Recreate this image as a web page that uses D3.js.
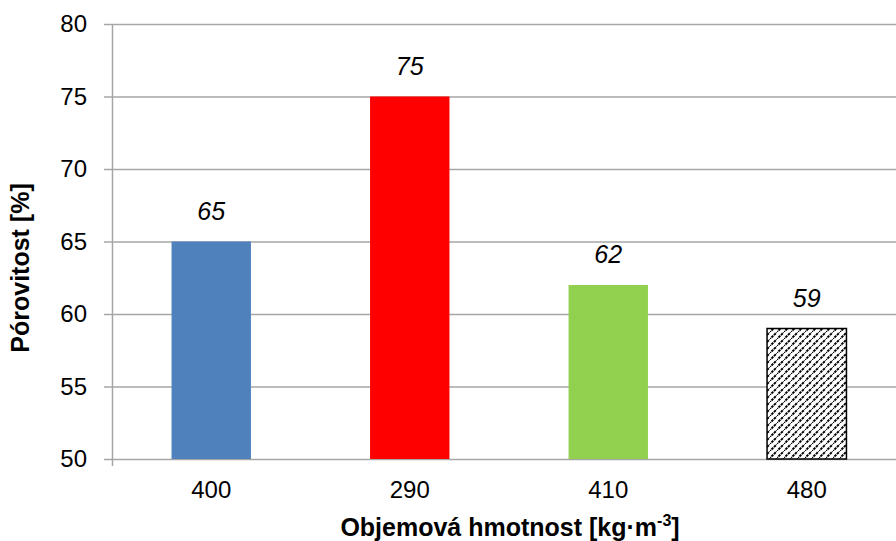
<!DOCTYPE html>
<html lang="cs">
<head>
    <meta charset="utf-8">
    <title>Pórovitost</title>
    <style>
        body {
            margin: 0;
            background: #fff;
            font-family: "Liberation Sans", Arial, sans-serif;
        }
        svg { display: block; }
    </style>
</head>
<body>
    <svg id="chart" width="896" height="541"></svg>

    <script src="https://d3js.org/d3.v7.min.js"></script>
    <script>
        // Data
        const categories = ["400", "290", "410", "480"];
        const values = [65, 75, 62, 59];
        const barFills = ["#4f81bd", "#ff0000", "#92d050", "url(#hatch)"];
        const yTicks = [50, 55, 60, 65, 70, 75, 80];

        const svg = d3.select("#chart");
        const margin = { top: 24, right: -10, bottom: 82, left: 112 };
        const width = 896 - margin.left - margin.right;
        const height = 541 - margin.top - margin.bottom;

        // Hatch pattern for the last bar
        const defs = svg.append("defs");
        const pat = defs.append("pattern")
            .attr("id", "hatch")
            .attr("patternUnits", "userSpaceOnUse")
            .attr("width", 7)
            .attr("height", 7);
        pat.append("rect").attr("width", 7).attr("height", 7).attr("fill", "#fff");
        pat.append("path")
            .attr("d", "M-1,8 L8,-1")
            .attr("stroke", "#000")
            .attr("stroke-width", 1.9)
            .attr("stroke-dasharray", "2.6,0.9");

        const g = svg.append("g").attr("transform", `translate(${margin.left},${margin.top})`);

        const x = d3.scaleBand().domain(categories).range([0, width]).paddingInner(0.6).paddingOuter(0.3);
        const y = d3.scaleLinear().domain([50, 80]).range([height, 0]);

        // Gridlines
        g.append("g")
            .selectAll("line")
            .data(yTicks)
            .join("line")
            .attr("x1", 0)
            .attr("x2", width)
            .attr("y1", d => y(d) + 0.5)
            .attr("y2", d => y(d) + 0.5)
            .attr("stroke", "#a6a6a6")
            .attr("stroke-width", 1.5);

        // Bars
        g.append("g")
            .selectAll("rect")
            .data(values)
            .join("rect")
            .attr("x", (d, i) => x(categories[i]))
            .attr("y", d => y(d))
            .attr("width", x.bandwidth())
            .attr("height", d => height - y(d))
            .attr("fill", (d, i) => barFills[i])
            .attr("stroke", (d, i) => i === 3 ? "#000" : "none")
            .attr("stroke-width", 1.5);

        // Data labels
        g.append("g")
            .selectAll("text")
            .data(values)
            .join("text")
            .attr("x", (d, i) => x(categories[i]) + x.bandwidth() / 2)
            .attr("y", d => y(d) - 22)
            .attr("text-anchor", "middle")
            .attr("font-size", 25)
            .attr("font-style", "italic")
            .attr("fill", "#000")
            .text(d => d);

        // Y axis
        const yAxis = g.append("g")
            .call(d3.axisLeft(y).tickValues(yTicks).tickSize(8).tickPadding(17));
        yAxis.select(".domain").attr("d", `M0.5,0V${height + 7}`).attr("stroke", "#a6a6a6").attr("stroke-width", 1.5);
        yAxis.selectAll(".tick line").attr("stroke", "#a6a6a6").attr("stroke-width", 1.5);
        yAxis.selectAll(".tick text")
            .attr("font-family", "Liberation Sans, Arial, sans-serif")
            .attr("font-size", 24)
            .attr("fill", "#000");

        // X axis
        const xAxis = g.append("g")
            .attr("transform", `translate(0,${height})`)
            .call(d3.axisBottom(x).tickSize(0).tickPadding(22));
        xAxis.select(".domain").remove();
        xAxis.selectAll(".tick text")
            .attr("font-family", "Liberation Sans, Arial, sans-serif")
            .attr("font-size", 24)
            .attr("fill", "#000");

        // Axis titles
        svg.append("text")
            .attr("transform", "translate(29,268) rotate(-90)")
            .attr("text-anchor", "middle")
            .attr("font-size", 25)
            .attr("font-weight", "bold")
            .text("Pórovitost [%]");

        const xt = svg.append("text")
            .attr("x", 510)
            .attr("y", 536)
            .attr("text-anchor", "middle")
            .attr("font-size", 25)
            .attr("font-weight", "bold");
        xt.append("tspan").text("Objemová hmotnost [kg·m");
        xt.append("tspan").attr("dy", -10).attr("font-size", 16).text("-3");
        xt.append("tspan").attr("dy", 10).text("]");
    </script>
</body>
</html>
